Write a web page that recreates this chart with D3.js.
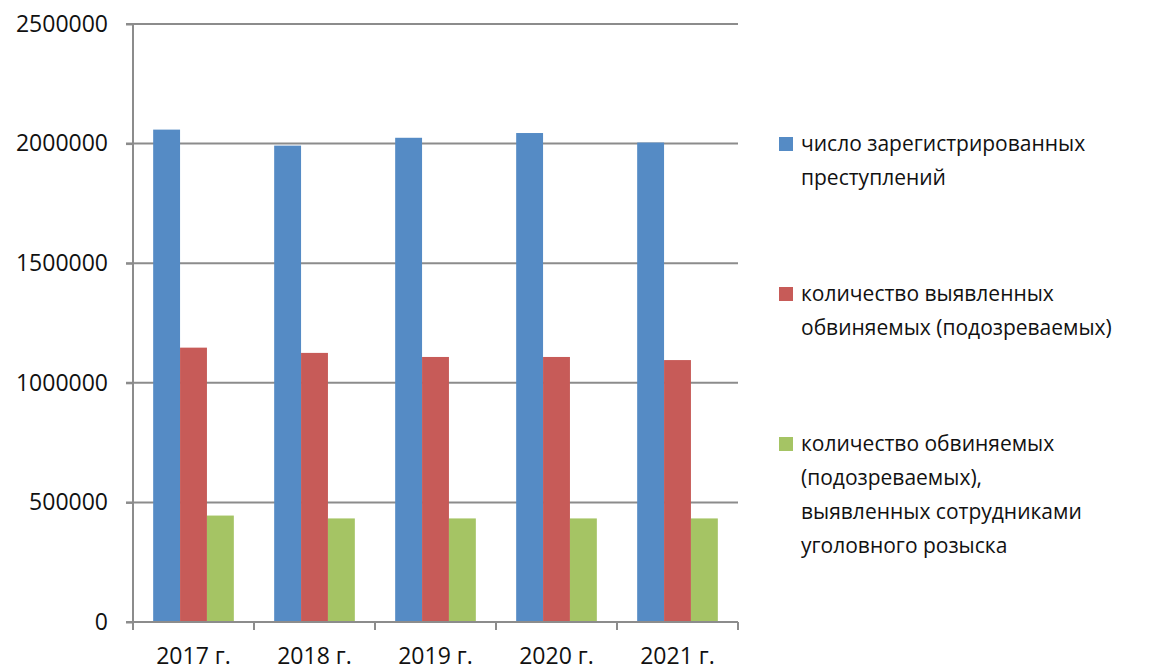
<!DOCTYPE html>
<html lang="ru">
<head>
<meta charset="UTF-8">
<title>Преступления 2017-2021</title>
<script src="https://cdn.jsdelivr.net/npm/d3@7"></script>
<style>
  body { margin: 0; background: #fff; }
  text { font-family: "Open Sans", "Noto Sans", sans-serif; fill: #111; }
</style>
</head>
<body>
<div id="chart"></div>
<script>
    var years = ['2017 г.', '2018 г.', '2019 г.', '2020 г.', '2021 г.'];
    var seriesNames = [
        ['число зарегистрированных', 'преступлений'],
        ['количество выявленных', 'обвиняемых (подозреваемых)'],
        ['количество обвиняемых', '(подозреваемых),', 'выявленных сотрудниками', 'уголовного розыска']
    ];
    var registered = [2058476, 1991532, 2024337, 2044221, 2004404];
    var accused = [1147000, 1125000, 1108000, 1108000, 1095000];
    var byCriminalInvestigation = [445000, 433000, 433000, 433000, 433000];
    var yTicks = [0, 500000, 1000000, 1500000, 2000000, 2500000];
    var colors = ['#558bc5', '#c75b58', '#a5c464'];

    var series = [registered, accused, byCriminalInvestigation];

    var W = 1161, H = 668;
    var plotLeft = 133, plotRight = 738, plotTop = 24, plotBottom = 622;

    var svg = d3.select('#chart').append('svg')
        .attr('width', W)
        .attr('height', H);

    var x = d3.scaleBand().domain(years).range([plotLeft, plotRight]).paddingInner(0).paddingOuter(0);
    // gap width 150% like the original office chart
    var x1 = d3.scaleBand().domain([0, 1, 2]).range([0, x.bandwidth()])
        .paddingInner(0).paddingOuter(0.75);
    var y = d3.scaleLinear().domain([0, 2500000]).range([plotBottom, plotTop]);

    // grid lines
    svg.append('g').selectAll('line')
        .data(yTicks.filter(function(d){ return d > 0; }))
        .enter().append('line')
        .attr('x1', plotLeft - 7).attr('x2', plotRight)
        .attr('y1', function(d){ return y(d); })
        .attr('y2', function(d){ return y(d); })
        .attr('stroke', '#8c8c8c')
        .attr('stroke-width', 2);

    // bars
    var groups = svg.append('g').selectAll('g')
        .data(years)
        .enter().append('g')
        .attr('transform', function(d){ return 'translate(' + x(d) + ',0)'; });

    groups.selectAll('rect')
        .data(function(d, i){ return series.map(function(s, k){ return {k: k, v: s[i]}; }); })
        .enter().append('rect')
        .attr('x', function(d){ return x1(d.k); })
        .attr('width', x1.bandwidth())
        .attr('y', function(d){ return y(d.v); })
        .attr('height', function(d){ return y(0) - y(d.v); })
        .attr('fill', function(d){ return colors[d.k]; });

    // y axis
    var yAxis = d3.axisLeft(y).tickValues(yTicks).tickSize(7).tickPadding(18)
        .tickFormat(d3.format('d'));
    var gy = svg.append('g').attr('transform', 'translate(' + plotLeft + ',0)').call(yAxis);
    gy.selectAll('line, path').attr('stroke', '#8c8c8c').attr('stroke-width', 2);
    gy.select('.domain').attr('d', 'M0,' + plotBottom + 'V' + plotTop);
    gy.selectAll('text').style('font-size', '23px').attr('fill', '#111')
        .style('font-family', '"Open Sans", sans-serif');

    // x axis
    var xEdges = [plotLeft].concat(years.map(function(d){ return x(d) + x.bandwidth(); }));
    svg.append('line')
        .attr('x1', plotLeft - 7).attr('x2', plotRight)
        .attr('y1', y(0)).attr('y2', y(0))
        .attr('stroke', '#8c8c8c').attr('stroke-width', 2);
    svg.append('g').selectAll('line')
        .data(xEdges)
        .enter().append('line')
        .attr('x1', function(d){ return d; }).attr('x2', function(d){ return d; })
        .attr('y1', y(0)).attr('y2', y(0) + 8)
        .attr('stroke', '#8c8c8c').attr('stroke-width', 2);
    svg.append('g').selectAll('text')
        .data(years)
        .enter().append('text')
        .attr('x', function(d){ return x(d) + x.bandwidth() / 2; })
        .attr('y', 664)
        .attr('text-anchor', 'middle')
        .style('font-size', '23px')
        .text(function(d){ return d; });

    // legend
    var legendTops = [144, 294, 444];
    var lg = svg.append('g').selectAll('g')
        .data(seriesNames)
        .enter().append('g')
        .attr('transform', function(d, i){ return 'translate(779,' + legendTops[i] + ')'; });
    lg.append('rect')
        .attr('x', 0).attr('y', -7)
        .attr('width', 14).attr('height', 14)
        .attr('fill', function(d, i){ return colors[i]; });
    lg.selectAll('text')
        .data(function(d){ return d; })
        .enter().append('text')
        .attr('x', 22)
        .attr('y', function(d, j){ return j * 34 + 7; })
        .style('font-size', '21px')
        .text(function(d){ return d; });
</script>
</body>
</html>
